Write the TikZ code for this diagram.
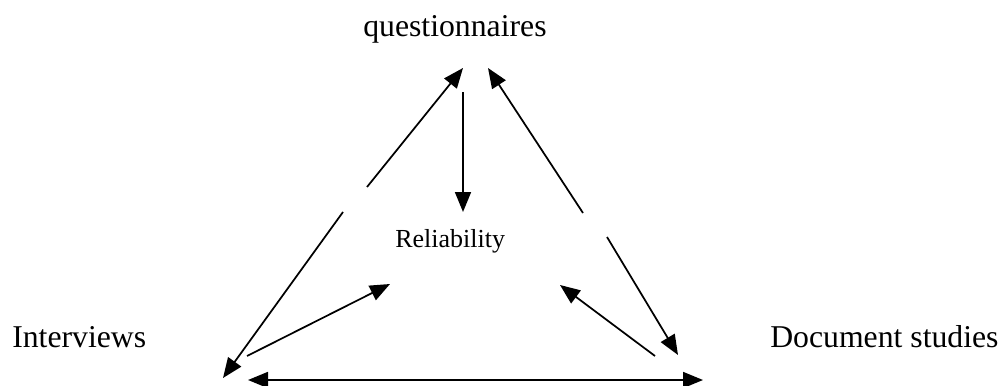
\documentclass[tikz,border=0pt]{standalone}
\usepackage{fontspec}
\setmainfont{Liberation Serif}
\usetikzlibrary{arrows.meta}
\begin{document}
\begin{tikzpicture}[x=0.75pt,y=-0.75pt,
  conn/.style={line width=1.3pt,-{Triangle[length=15pt,width=12pt]}},
  dconn/.style={line width=1.3pt,{Triangle[length=15pt,width=12pt]}-{Triangle[length=15pt,width=12pt]}},
  big/.style={inner sep=0pt,anchor=base west,font=\fontsize{23.8}{28}\selectfont},
  small/.style={inner sep=0pt,anchor=base west,font=\fontsize{19.5}{23}\selectfont}]
\useasboundingbox (0,0) rectangle (1005,385);
\node[big] (q) at (363,37) {questionnaires};
\node[big] (int) at (12,347) {Interviews};
\node[big] (doc) at (770,347) {Document studies};
\node[small] (rel) at (395,247) {Reliability};
% endpoints
\coordinate (qL) at (463,68);
\coordinate (qR) at (488,68);
\coordinate (qD) at (463,92);
\coordinate (rT) at (463,212);
\coordinate (rL) at (390,284);
\coordinate (rR) at (560,285);
\coordinate (g1) at (367,187);
\coordinate (g2) at (343,212);
\coordinate (g3) at (583,213);
\coordinate (g4) at (607,237);
\coordinate (iT) at (223,378);
\coordinate (iS) at (247,356);
\coordinate (iB) at (248,380);
\coordinate (dT) at (678,355);
\coordinate (dS) at (655,356);
\coordinate (dB) at (703,380);
\draw[conn] (g1) -- (qL);
\draw[conn] (g2) -- (iT);
\draw[conn] (qD) -- (rT);
\draw[conn] (g3) -- (qR);
\draw[conn] (g4) -- (dT);
\draw[conn] (iS) -- (rL);
\draw[conn] (dS) -- (rR);
\draw[dconn] (iB) -- (dB);
\end{tikzpicture}
\end{document}
